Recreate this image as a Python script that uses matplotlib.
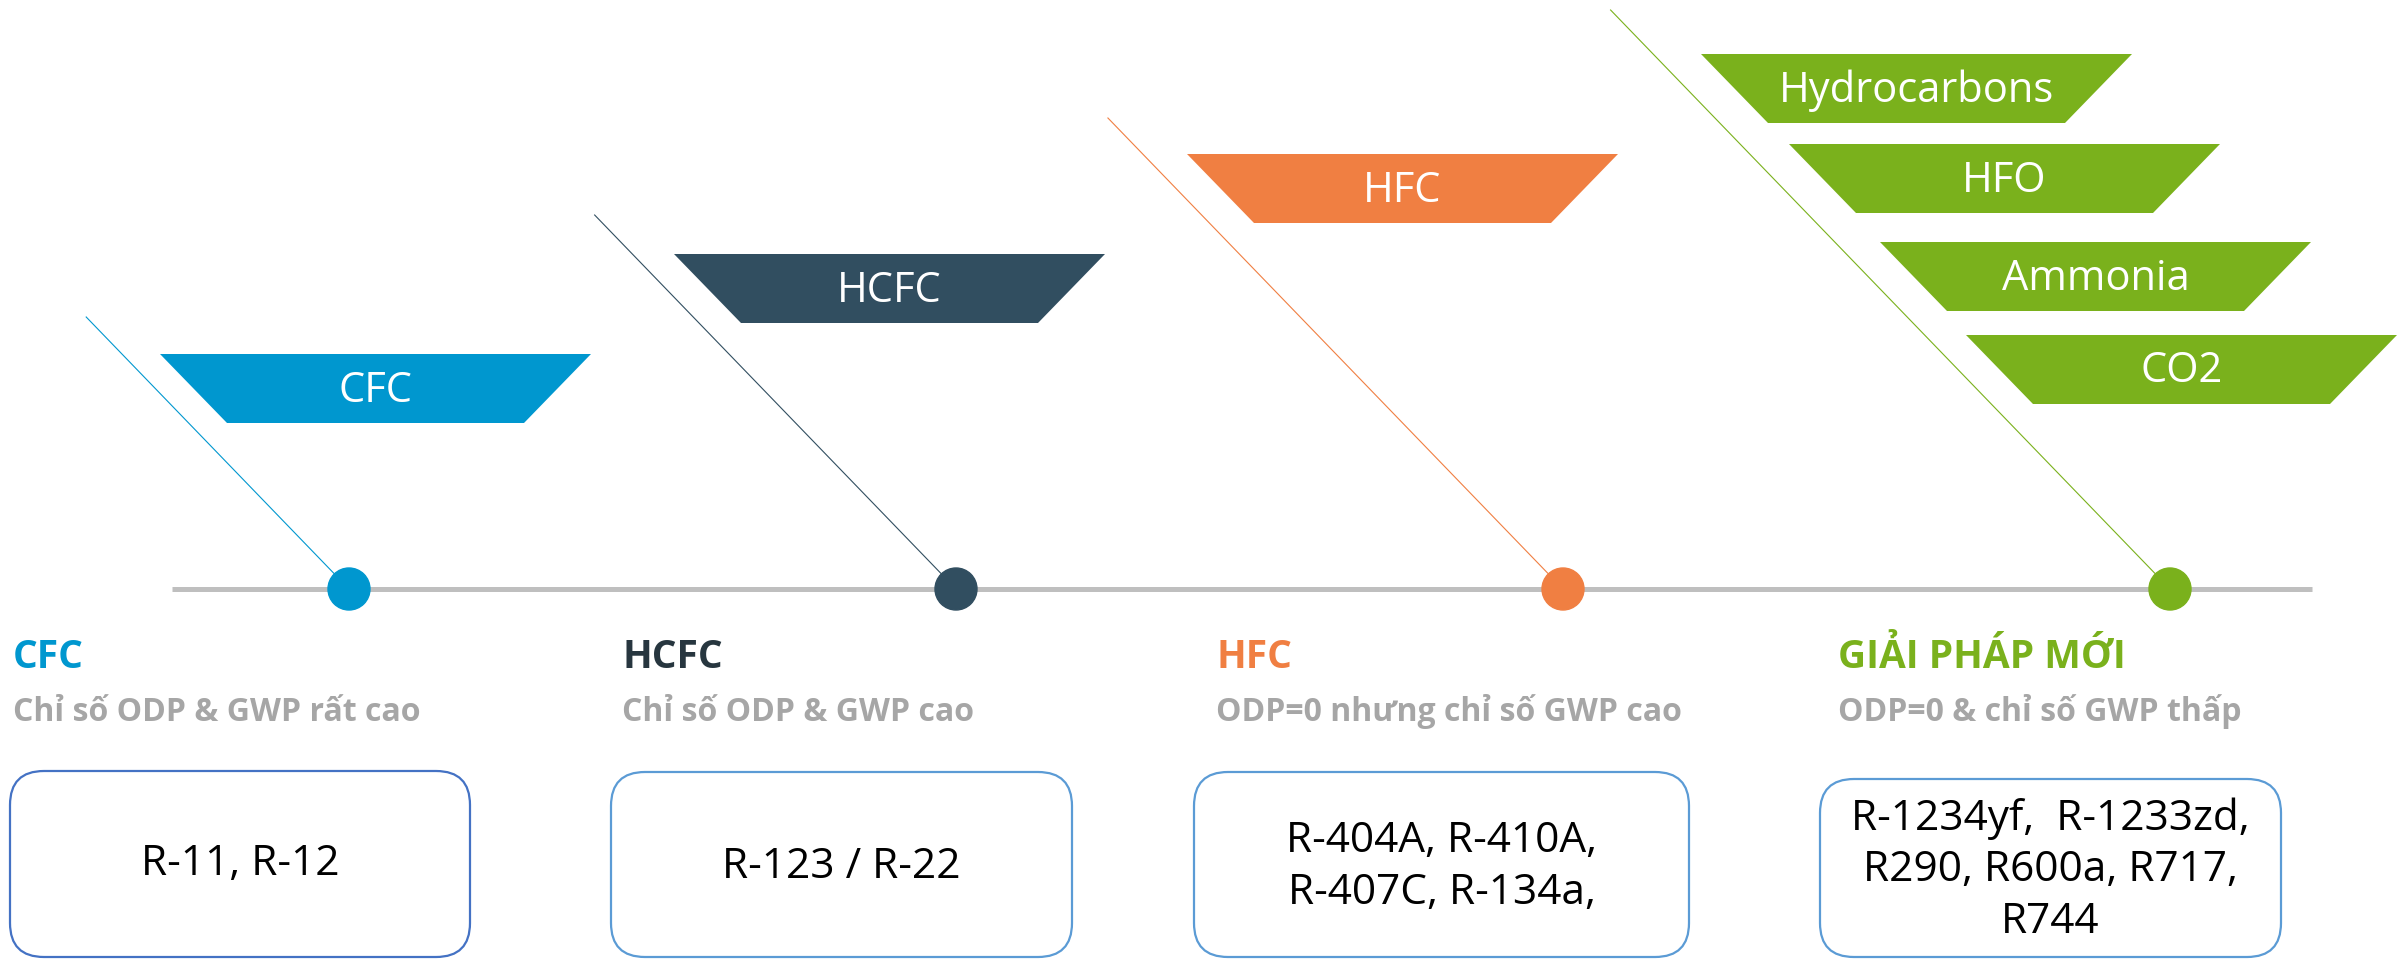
import matplotlib
matplotlib.use("Agg")
import matplotlib.pyplot as plt
from matplotlib.patches import Polygon, Circle, FancyBboxPatch

plt.rcParams['font.family'] = ['Open Sans', 'DejaVu Sans']

# content
categories = ["CFC", "HCFC", "HFC", "GIẢI PHÁP MỚI"]
subtitles = ["Chỉ số ODP & GWP rất cao",
             "Chỉ số ODP & GWP cao",
             "ODP=0 nhưng chỉ số GWP cao",
             "ODP=0 & chỉ số GWP thấp"]
refrigerants = ["R-11, R-12",
                "R-123 / R-22",
                "R-404A, R-410A,\nR-407C, R-134a,",
                "R-1234yf,  R-1233zd,\nR290, R600a, R717,\nR744"]
banners = [["CFC"], ["HCFC"], ["HFC"], ["Hydrocarbons", "HFO", "Ammonia", "CO2"]]

fill_colors = ["#0097CF", "#314E60", "#F07F42", "#7AB11C"]
head_colors = ["#0097CF", "#27363F", "#F07F42", "#7AB11C"]
box_edges = ["#4472C4", "#5B9BD5", "#5B9BD5", "#5B9BD5"]
sub_color = "#A6A6A6"
axis_color = "#BFBFBF"

# layout, pixel units on a 2400x960 canvas
W, H = 2400, 960
axis_y = 589
dot_x = [349, 956, 1563, 2170]
dot_r = 21
line_top = [317, 215, 118, 10]
slope = 1.035
trap_w, trap_h, trap_inset = 431, 69, 67
trap_pos = [[(160, 354)], [(674, 254)], [(1187, 154)],
            [(1701, 54), (1789, 144), (1880, 242), (1966, 335)]]
head_x = [13, 622, 1216, 1838]
box_x = [(10, 470), (611, 1072), (1194, 1689), (1820, 2281)]
box_top = [771, 772, 772, 779]
box_bottom = 957
box_text_y = [864, 867, 867, 870]

fig = plt.figure(figsize=(W / 100, H / 100), dpi=100)
ax = fig.add_axes([0, 0, 1, 1])
ax.set_xlim(0, W)
ax.set_ylim(H, 0)
ax.axis("off")

# timeline
ax.plot([172, 2312], [axis_y, axis_y], color=axis_color, lw=3.6,
        solid_capstyle="butt", zorder=1)

for i, cat in enumerate(categories):
    col = fill_colors[i]
    # diagonal leader line
    x0 = dot_x[i] - (axis_y - line_top[i]) / slope
    ax.plot([x0, dot_x[i]], [line_top[i], axis_y], color=col, lw=0.8, zorder=2)
    ax.add_patch(Circle((dot_x[i], axis_y), dot_r, color=col, zorder=3))

    # banners
    for label, (tx, ty) in zip(banners[i], trap_pos[i]):
        pts = [(tx, ty), (tx + trap_w, ty),
               (tx + trap_w - trap_inset, ty + trap_h), (tx + trap_inset, ty + trap_h)]
        ax.add_patch(Polygon(pts, closed=True, color=col, lw=0, zorder=2))
        ax.text(tx + trap_w / 2, ty + trap_h / 2 + 2, label, color="white",
                fontsize=30, ha="center", va="center", zorder=4)

    # heading and subtitle
    ax.text(head_x[i], 668, cat, color=head_colors[i], fontsize=28,
            fontweight="bold", ha="left", va="baseline")
    ax.text(head_x[i], 721, subtitles[i], color=sub_color, fontsize=23,
            fontweight="bold", ha="left", va="baseline")

    # refrigerant box
    bx0, bx1 = box_x[i]
    ax.add_patch(FancyBboxPatch((bx0, box_top[i]), bx1 - bx0, box_bottom - box_top[i],
                                boxstyle="round,pad=0,rounding_size=34",
                                facecolor="white", edgecolor=box_edges[i], lw=1.6))
    ax.text((bx0 + bx1) / 2, box_text_y[i], refrigerants[i], color="black",
            fontsize=30.5, ha="center", va="center", linespacing=1.3,
            multialignment="center")

fig.savefig("out.png", dpi=100, facecolor="white")
